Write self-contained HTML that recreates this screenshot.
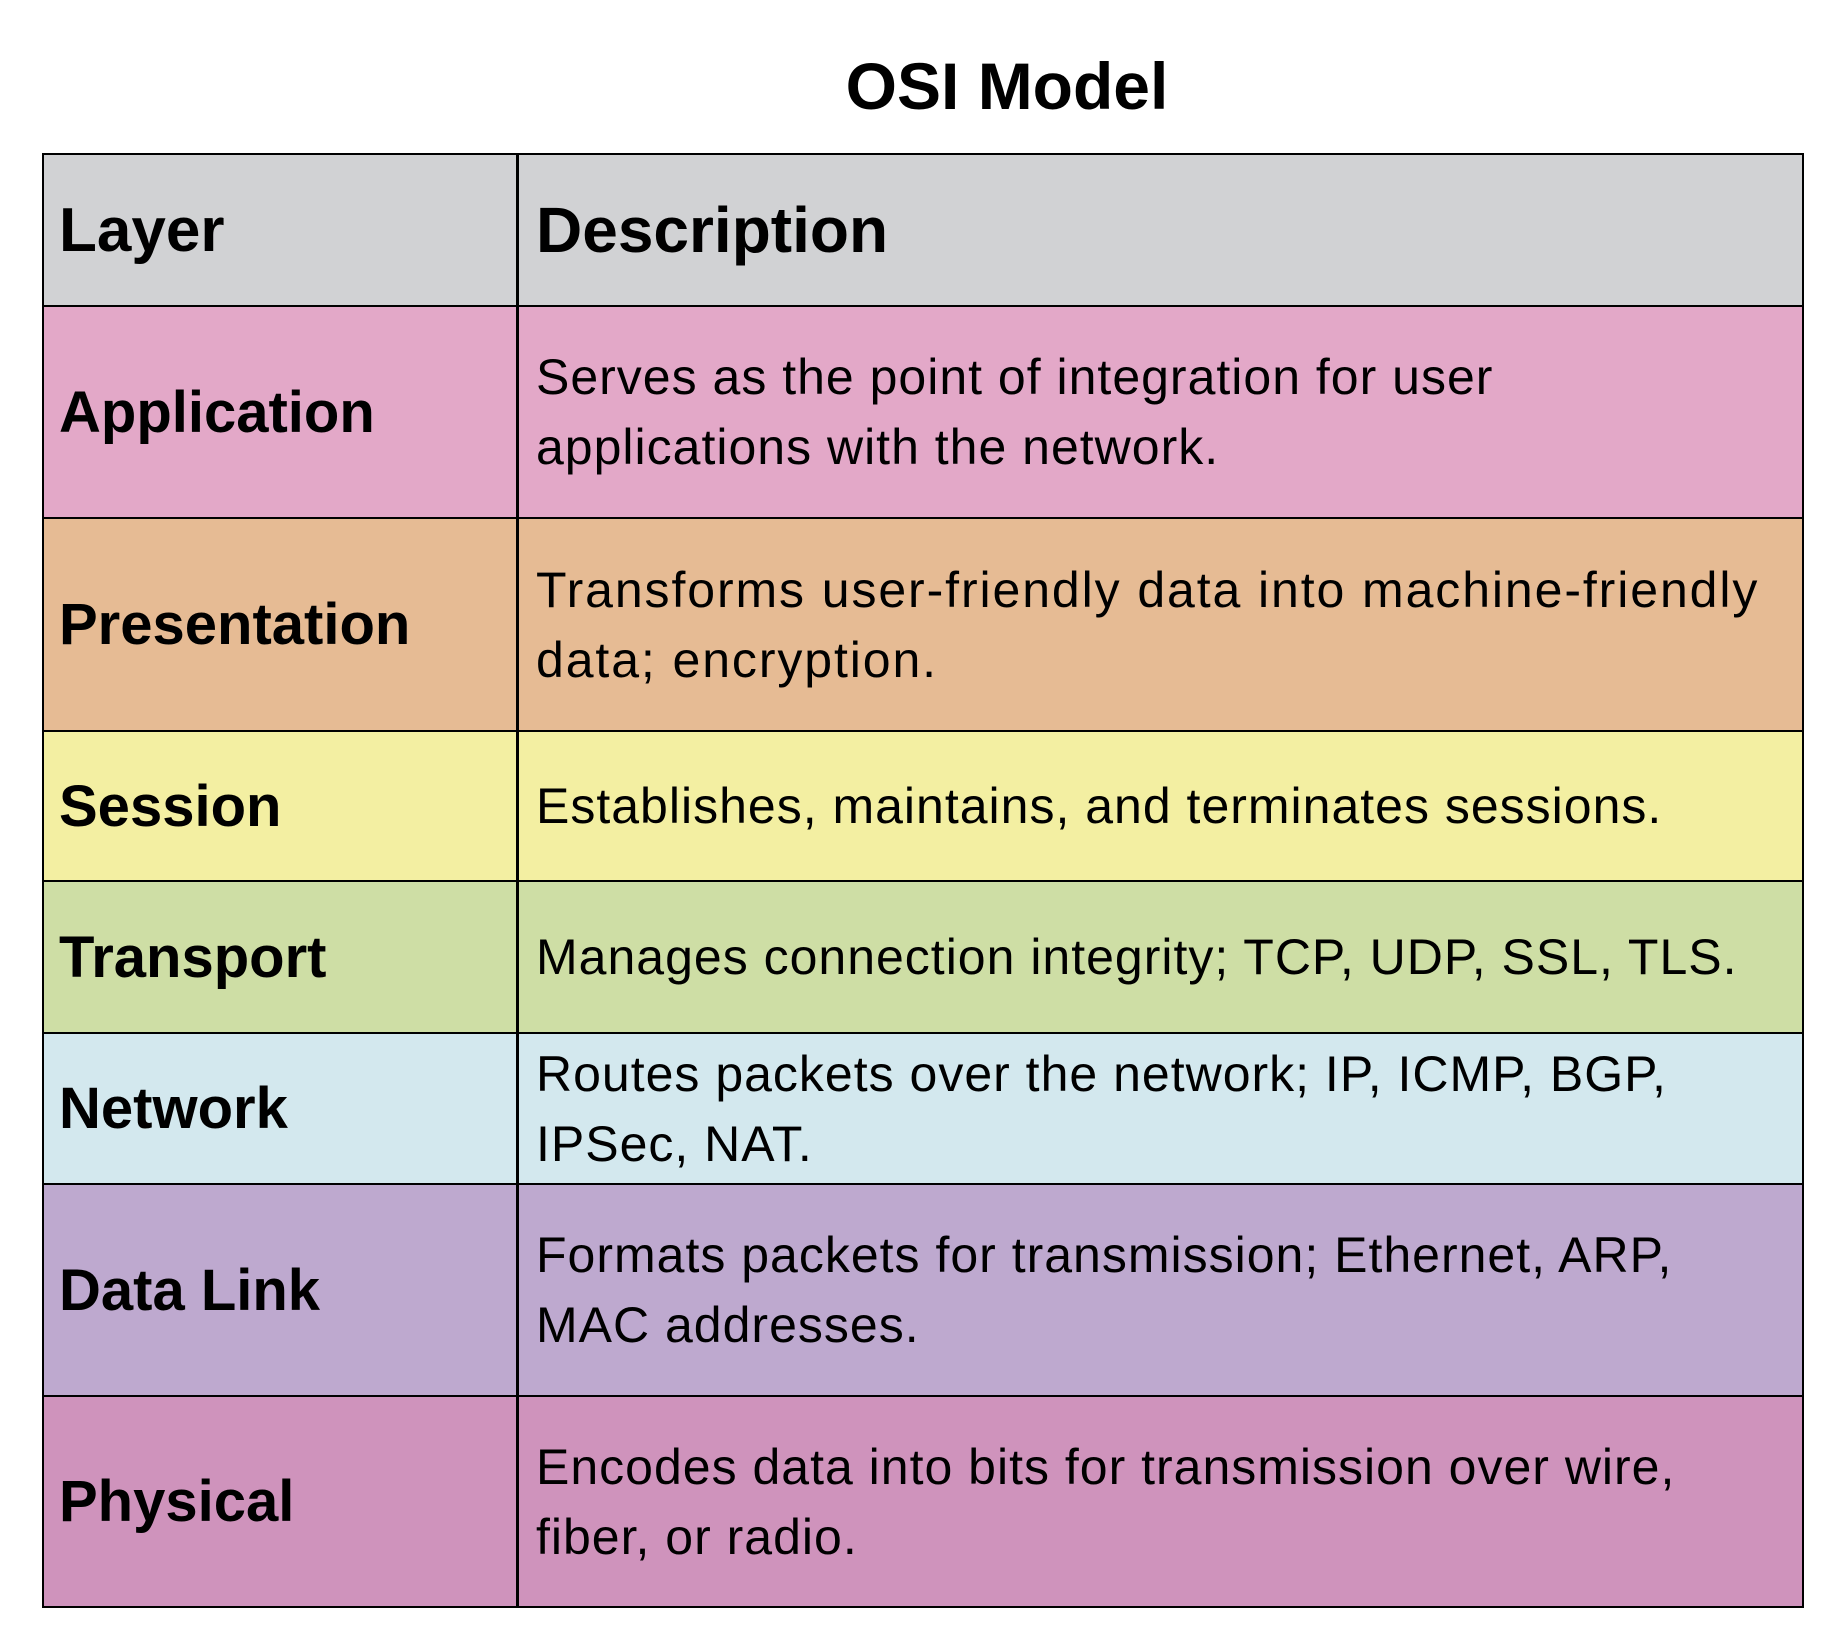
<!DOCTYPE html>
<html><head><meta charset="utf-8"><style>
body{margin:0;width:1826px;height:1632px;background:#fff;position:relative;font-family:"Liberation Sans",sans-serif;overflow:hidden}
.t{position:absolute;left:0;width:2014px;top:48px;text-align:center;font-weight:bold;font-size:66px;color:#000}
.r{position:absolute;left:42px;width:1762px;box-sizing:border-box;border:2px solid #000;border-bottom:none;display:flex}
.a{width:475px;border-right:3px solid #000;display:flex;align-items:center;padding-left:15px;font-weight:bold;font-size:58px;box-sizing:border-box}
.b{flex:1;display:flex;align-items:center;padding-left:17px;font-size:50px;letter-spacing:1px;line-height:70px;box-sizing:border-box;padding-right:4px;white-space:nowrap}
</style></head><body>
<div class="t">OSI Model</div>
<div class="r" style="top:153px;height:152px;background:#d1d2d4"><div class="a" style="font-size:62px">Layer</div><div class="b" style="font-weight:bold;font-size:64px;letter-spacing:0">Description</div></div>
<div class="r" style="top:305px;height:212px;background:#e3a8c8"><div class="a">Application</div><div class="b">Serves as the point of integration for user<br>applications with the network.</div></div>
<div class="r" style="top:517px;height:213px;background:#e6bb94"><div class="a">Presentation</div><div class="b" style="letter-spacing:1.9px">Transforms user-friendly data into machine-friendly<br>data; encryption.</div></div>
<div class="r" style="top:730px;height:150px;background:#f3efa2"><div class="a">Session</div><div class="b">Establishes, maintains, and terminates sessions.</div></div>
<div class="r" style="top:880px;height:152px;background:#cedea5"><div class="a">Transport</div><div class="b">Manages connection integrity; TCP, UDP, SSL, TLS.</div></div>
<div class="r" style="top:1032px;height:151px;background:#d3e8ee"><div class="a">Network</div><div class="b">Routes packets over the network; IP, ICMP, BGP,<br>IPSec, NAT.</div></div>
<div class="r" style="top:1183px;height:212px;background:#bea9cf"><div class="a">Data Link</div><div class="b">Formats packets for transmission; Ethernet, ARP,<br>MAC addresses.</div></div>
<div class="r" style="top:1395px;height:213px;background:#cf93bc;border-bottom:2px solid #000"><div class="a">Physical</div><div class="b">Encodes data into bits for transmission over wire,<br>fiber, or radio.</div></div>
</body></html>
